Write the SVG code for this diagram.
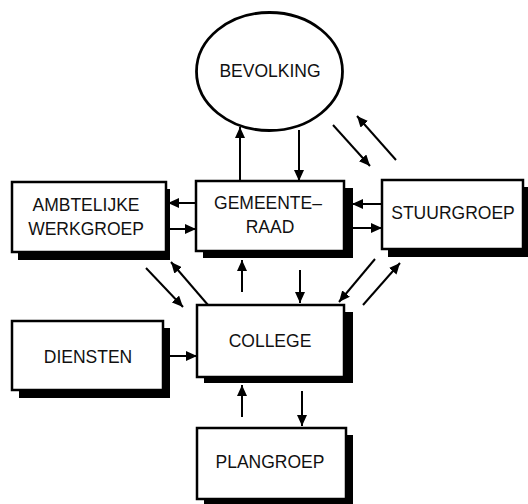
<svg xmlns="http://www.w3.org/2000/svg" width="528" height="504" viewBox="0 0 528 504">
<defs>
<marker id="ah" markerUnits="userSpaceOnUse" markerWidth="12" markerHeight="10" refX="11" refY="5" orient="auto">
<path d="M0,0 L11,5 L0,10 z" fill="#000"/>
</marker>
<style>
.box{fill:#fff;stroke:#000;stroke-width:2.5}
.sh{fill:#000}
.t{font-family:"Liberation Sans",Arial,sans-serif;font-size:17.5px;fill:#111;text-anchor:middle}
.c line{stroke:#000;stroke-width:2;marker-end:url(#ah)}
</style>
</defs>
<rect width="528" height="504" fill="#fff"/>
<g id="bevolking">
<ellipse cx="269.5" cy="71.5" rx="73" ry="59" fill="#fff" stroke="#000" stroke-width="2.8"/>
<text class="t" x="270" y="77">BEVOLKING</text>
</g>
<g id="gemeenteraad">
<rect class="sh" x="203" y="188" width="150" height="70"/>
<rect class="box" x="196" y="181" width="148" height="70"/>
<text class="t" x="268" y="209">GEMEENTE–</text>
<text class="t" x="270" y="233">RAAD</text>
</g>
<g id="ambtelijke">
<rect class="sh" x="18" y="189" width="152" height="71"/>
<rect class="box" x="12" y="182" width="154" height="70"/>
<text class="t" x="86" y="211">AMBTELIJKE</text>
<text class="t" x="86" y="235">WERKGROEP</text>
</g>
<g id="stuurgroep">
<rect class="sh" x="388" y="187" width="140" height="70"/>
<rect class="box" x="382" y="180" width="141" height="69"/>
<text class="t" x="453" y="219">STUURGROEP</text>
</g>
<g id="diensten">
<rect class="sh" x="19" y="328" width="151" height="70"/>
<rect class="box" x="12" y="321" width="151" height="69"/>
<text class="t" x="88" y="363">DIENSTEN</text>
</g>
<g id="college">
<rect class="sh" x="204" y="312" width="149" height="71"/>
<rect class="box" x="197" y="305" width="147" height="72"/>
<text class="t" x="270" y="347">COLLEGE</text>
</g>
<g id="plangroep">
<rect class="sh" x="204" y="435" width="149" height="71"/>
<rect class="box" x="197" y="428" width="149" height="71"/>
<text class="t" x="270" y="468">PLANGROEP</text>
</g>
<g id="connectors" class="c">
<line x1="240" y1="181" x2="240" y2="127"/>
<line x1="299" y1="130" x2="299" y2="181"/>
<line x1="333" y1="125" x2="370" y2="166"/>
<line x1="396" y1="160" x2="357" y2="116"/>
<line x1="196" y1="203" x2="168" y2="203"/>
<line x1="170" y1="229" x2="196" y2="229"/>
<line x1="382" y1="204" x2="352" y2="204"/>
<line x1="352" y1="228" x2="382" y2="228"/>
<line x1="375" y1="259" x2="339" y2="302"/>
<line x1="363" y1="305" x2="400" y2="263"/>
<line x1="242" y1="292" x2="242" y2="260"/>
<line x1="300" y1="270" x2="300" y2="303"/>
<line x1="146" y1="268" x2="183" y2="307"/>
<line x1="208" y1="305" x2="171" y2="262"/>
<line x1="170" y1="356" x2="197" y2="356"/>
<line x1="242" y1="417" x2="242" y2="385"/>
<line x1="302" y1="391" x2="302" y2="426"/>
</g>
</svg>
